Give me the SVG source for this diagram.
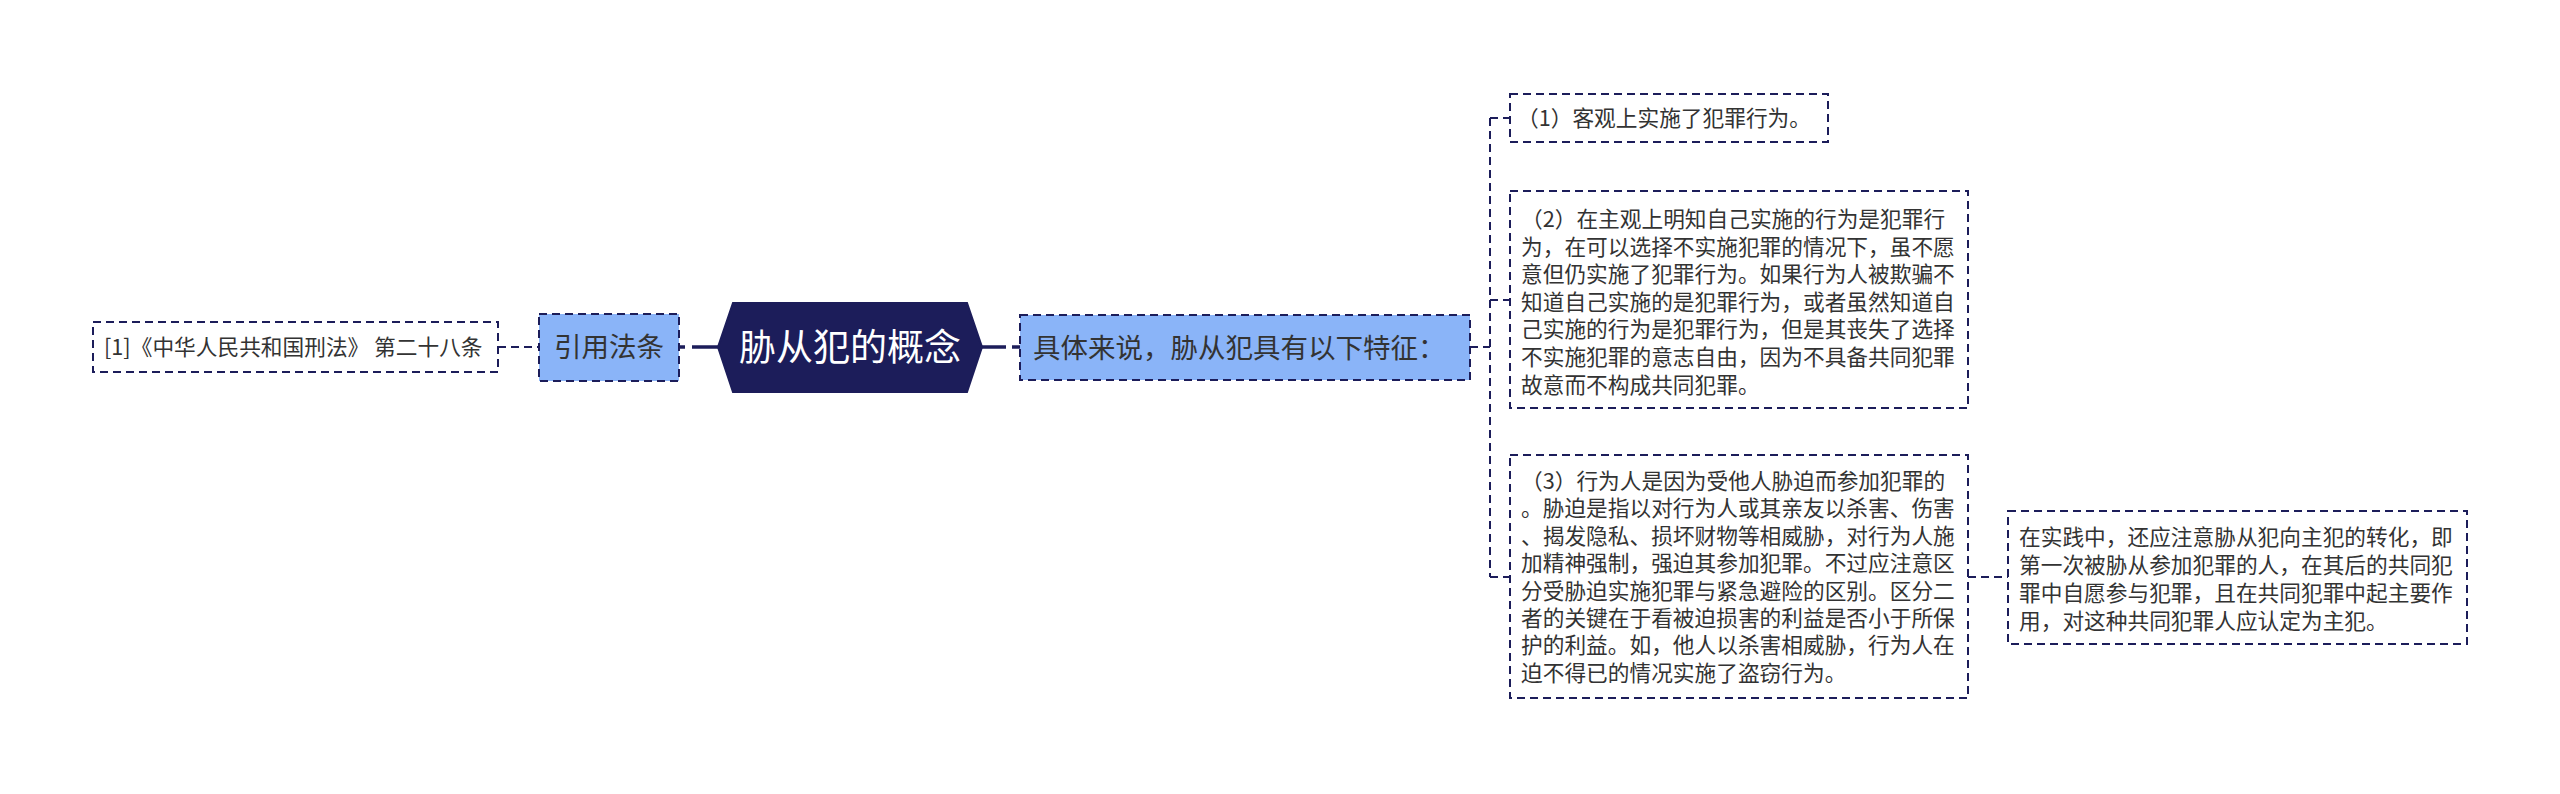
<svg xmlns="http://www.w3.org/2000/svg" width="2560" height="794" viewBox="0 0 2560 794">
<style>
.bg{fill:#ffffff}
.box{fill:#ffffff;stroke:#1c1d5a;stroke-width:2;stroke-dasharray:8 5}
.blue{fill:#8ab4f8;stroke:#1c1d5a;stroke-width:2;stroke-dasharray:8 5}
.hex{fill:#1c1d5a;stroke:#1c1d5a;stroke-width:2}
.t{font-family:"Noto Sans CJK SC","Noto Sans",sans-serif;font-size:21.7px;fill:#333333}
.tb{font-family:"Noto Sans CJK SC","Noto Sans",sans-serif;font-size:27.5px;fill:#333333}
.th{font-family:"Noto Sans CJK SC","Noto Sans",sans-serif;font-size:37px;fill:#ffffff}
.dash{fill:none;stroke:#1c1d5a;stroke-width:2;stroke-dasharray:8 5}
.solid{fill:none;stroke:#1c1d5a;stroke-width:3.5}
</style>
<rect class="bg" x="0" y="0" width="2560" height="794"/>
<g id="connectors">
<path class="dash" d="M498,347 H539"/>
<path class="solid" d="M692,347 H718"/>
<path class="solid" d="M680,347 H685"/>
<path class="solid" d="M982,347 H1006"/>
<path class="solid" d="M1012,347 H1020"/>
<path class="dash" d="M1470,347 H1490"/>
<path class="dash" d="M1490,118 V577"/>
<path class="dash" d="M1490,118 H1510"/>
<path class="dash" d="M1490,300 H1510"/>
<path class="dash" d="M1490,577 H1510"/>
<path class="dash" d="M1968,577 H2008"/>
</g>
<g id="node-ref">
<rect class="box" x="93" y="322" width="405" height="50"/>
<text class="t" x="104" y="355">[1]《中华人民共和国刑法》 第二十八条</text>
</g>
<g id="node-yinyong">
<rect class="blue" x="539" y="314" width="140" height="67"/>
<text class="tb" x="609" y="357" text-anchor="middle">引用法条</text>
</g>
<g id="node-root">
<polygon class="hex" points="718,347 733,303 967,303 982,347 967,392 733,392"/>
<text class="th" x="850" y="361" text-anchor="middle">胁从犯的概念</text>
</g>
<g id="node-juti">
<rect class="blue" x="1020" y="315" width="450" height="65"/>
<text class="tb" x="1033" y="358">具体来说，胁从犯具有以下特征：</text>
</g>
<g id="node-1">
<rect class="box" x="1510" y="94" width="318" height="48"/>
<text class="t" x="1517" y="126">（1）客观上实施了犯罪行为。</text>
</g>
<g id="node-2">
<rect class="box" x="1510" y="191" width="458" height="217"/>
<text class="t">
<tspan x="1521" y="227">（2）在主观上明知自己实施的行为是犯罪行</tspan>
<tspan x="1521" y="254.6">为，在可以选择不实施犯罪的情况下，虽不愿</tspan>
<tspan x="1521" y="282.2">意但仍实施了犯罪行为。如果行为人被欺骗不</tspan>
<tspan x="1521" y="309.8">知道自己实施的是犯罪行为，或者虽然知道自</tspan>
<tspan x="1521" y="337.4">己实施的行为是犯罪行为，但是其丧失了选择</tspan>
<tspan x="1521" y="365">不实施犯罪的意志自由，因为不具备共同犯罪</tspan>
<tspan x="1521" y="392.6">故意而不构成共同犯罪。</tspan>
</text>
</g>
<g id="node-3">
<rect class="box" x="1510" y="455" width="458" height="243"/>
<text class="t">
<tspan x="1521" y="489">（3）行为人是因为受他人胁迫而参加犯罪的</tspan>
<tspan x="1521" y="516.4">。胁迫是指以对行为人或其亲友以杀害、伤害</tspan>
<tspan x="1521" y="543.8">、揭发隐私、损坏财物等相威胁，对行为人施</tspan>
<tspan x="1521" y="571.2">加精神强制，强迫其参加犯罪。不过应注意区</tspan>
<tspan x="1521" y="598.6">分受胁迫实施犯罪与紧急避险的区别。区分二</tspan>
<tspan x="1521" y="626">者的关键在于看被迫损害的利益是否小于所保</tspan>
<tspan x="1521" y="653.4">护的利益。如，他人以杀害相威胁，行为人在</tspan>
<tspan x="1521" y="680.8">迫不得已的情况实施了盗窃行为。</tspan>
</text>
</g>
<g id="node-4">
<rect class="box" x="2008" y="511" width="459" height="133"/>
<text class="t">
<tspan x="2019" y="545">在实践中，还应注意胁从犯向主犯的转化，即</tspan>
<tspan x="2019" y="573">第一次被胁从参加犯罪的人，在其后的共同犯</tspan>
<tspan x="2019" y="601">罪中自愿参与犯罪，且在共同犯罪中起主要作</tspan>
<tspan x="2019" y="629">用，对这种共同犯罪人应认定为主犯。</tspan>
</text>
</g>
</svg>
